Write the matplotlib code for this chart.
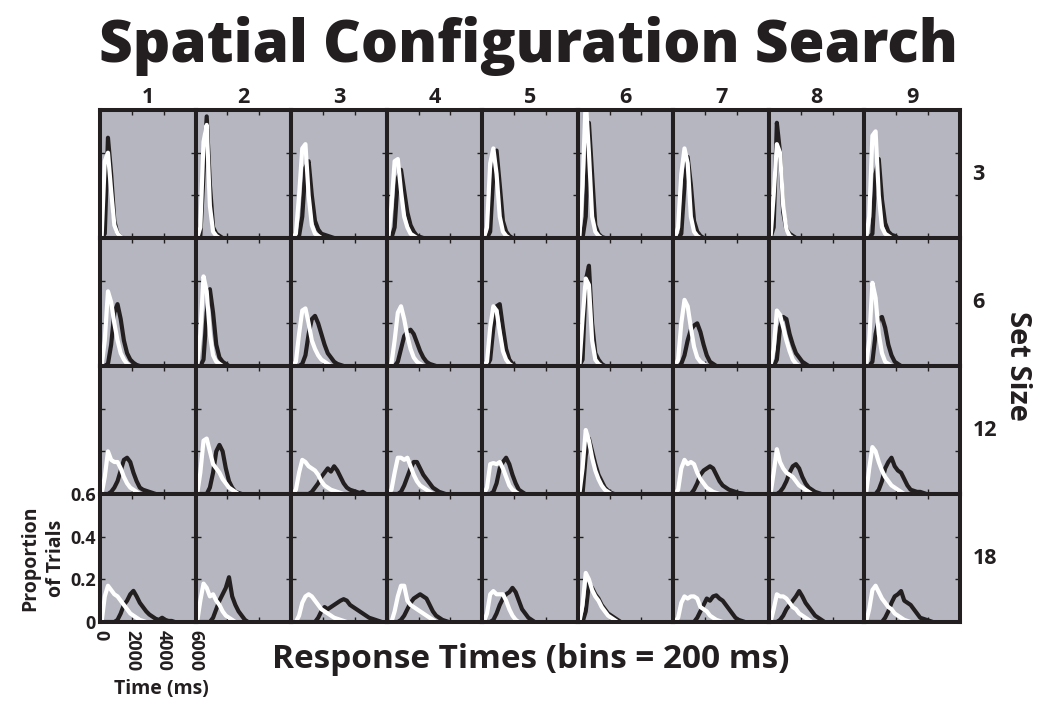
import matplotlib
matplotlib.use("Agg")
import matplotlib.pyplot as plt
import numpy as np

plt.rcParams['font.family'] = ['Open Sans', 'DejaVu Sans']
plt.rcParams['font.weight'] = 'bold'

# bin width of the RT histograms (ms)
bin_ms = 200
columns = ['1', '2', '3', '4', '5', '6', '7', '8', '9']
set_sizes = ['3', '6', '12', '18']

# proportion of trials per 200 ms bin, white = one condition, black = the other
white_ss3 = [
    [0, 0.36, 0.40, 0.22, 0.06, 0.02, 0.005, 0],
    [0, 0.05, 0.45, 0.53, 0.15, 0.03, 0.01, 0],
    [0, 0.02, 0.20, 0.42, 0.44, 0.20, 0.06, 0.02, 0.01, 0],
    [0, 0.15, 0.36, 0.37, 0.22, 0.10, 0.05, 0.02, 0.01, 0],
    [0, 0.05, 0.35, 0.42, 0.30, 0.10, 0.03, 0.01, 0],
    [0, 0.25, 0.65, 0.40, 0.10, 0.03, 0.01, 0],
    [0, 0.05, 0.30, 0.42, 0.35, 0.10, 0.03, 0.01, 0],
    [0, 0.20, 0.44, 0.40, 0.15, 0.04, 0.01, 0],
    [0, 0.10, 0.48, 0.50, 0.20, 0.05, 0.02, 0.01, 0],
]
black_ss3 = [
    [0, 0.02, 0.47, 0.30, 0.08, 0.02, 0.005, 0],
    [0, 0.01, 0.30, 0.57, 0.25, 0.05, 0.02, 0.01, 0],
    [0, 0, 0.01, 0.10, 0.33, 0.36, 0.20, 0.08, 0.04, 0.02, 0.015, 0.01, 0.005, 0],
    [0, 0, 0.05, 0.28, 0.32, 0.22, 0.12, 0.06, 0.03, 0.01, 0.005, 0],
    [0, 0, 0.03, 0.30, 0.41, 0.25, 0.08, 0.03, 0.01, 0],
    [0, 0, 0.10, 0.54, 0.30, 0.06, 0.02, 0.005, 0],
    [0, 0, 0.02, 0.25, 0.38, 0.25, 0.08, 0.03, 0.01, 0],
    [0, 0.05, 0.54, 0.40, 0.12, 0.04, 0.02, 0.01, 0],
    [0, 0, 0.02, 0.30, 0.37, 0.18, 0.07, 0.03, 0.015, 0.01, 0],
]

white_ss6 = [
    [0, 0.12, 0.35, 0.30, 0.20, 0.12, 0.06, 0.03, 0.01, 0],
    [0, 0.15, 0.42, 0.35, 0.15, 0.05, 0.02, 0.01, 0],
    [0, 0.02, 0.15, 0.26, 0.27, 0.20, 0.12, 0.08, 0.05, 0.03, 0.02, 0.01, 0],
    [0, 0.01, 0.12, 0.25, 0.28, 0.22, 0.14, 0.08, 0.04, 0.02, 0.01, 0],
    [0, 0.02, 0.18, 0.28, 0.26, 0.16, 0.07, 0.03, 0.01, 0],
    [0, 0.22, 0.41, 0.38, 0.12, 0.03, 0.01, 0],
    [0, 0.03, 0.20, 0.31, 0.28, 0.18, 0.09, 0.04, 0.02, 0.01, 0],
    [0, 0.08, 0.26, 0.24, 0.18, 0.12, 0.07, 0.03, 0.01, 0],
    [0, 0.12, 0.39, 0.32, 0.15, 0.06, 0.02, 0.01, 0],
]
black_ss6 = [
    [0, 0, 0.01, 0.10, 0.25, 0.29, 0.22, 0.12, 0.06, 0.03, 0.015, 0.005, 0],
    [0, 0, 0.03, 0.25, 0.36, 0.25, 0.10, 0.04, 0.02, 0.01, 0],
    [0, 0, 0, 0.01, 0.05, 0.15, 0.22, 0.235, 0.20, 0.15, 0.10, 0.06, 0.04, 0.02, 0.01, 0.005, 0],
    [0, 0, 0, 0.02, 0.08, 0.14, 0.16, 0.17, 0.15, 0.11, 0.07, 0.04, 0.02, 0.01, 0.005, 0],
    [0, 0, 0.03, 0.18, 0.28, 0.29, 0.18, 0.08, 0.03, 0.01, 0],
    [0, 0.03, 0.40, 0.47, 0.20, 0.06, 0.03, 0.01, 0],
    [0, 0, 0.01, 0.05, 0.12, 0.17, 0.19, 0.20, 0.16, 0.10, 0.05, 0.02, 0.01, 0],
    [0, 0, 0.03, 0.18, 0.23, 0.22, 0.15, 0.10, 0.06, 0.04, 0.02, 0.01, 0],
    [0, 0, 0.02, 0.15, 0.22, 0.23, 0.18, 0.10, 0.05, 0.02, 0.01, 0],
]

white_ss12 = [
    [0, 0.08, 0.20, 0.16, 0.15, 0.15, 0.12, 0.08, 0.05, 0.03, 0.02, 0.01, 0],
    [0, 0.10, 0.25, 0.26, 0.20, 0.14, 0.12, 0.10, 0.07, 0.05, 0.03, 0.02, 0.01, 0],
    [0, 0.02, 0.10, 0.16, 0.15, 0.13, 0.12, 0.11, 0.09, 0.06, 0.04, 0.03, 0.02, 0.015, 0.01, 0.005, 0],
    [0, 0.02, 0.10, 0.17, 0.17, 0.16, 0.17, 0.13, 0.09, 0.06, 0.04, 0.03, 0.02, 0.01, 0],
    [0, 0.03, 0.14, 0.145, 0.14, 0.15, 0.12, 0.08, 0.04, 0.02, 0.01, 0],
    [0, 0.12, 0.30, 0.25, 0.17, 0.11, 0.07, 0.04, 0.02, 0.01, 0],
    [0, 0.02, 0.12, 0.16, 0.14, 0.15, 0.14, 0.10, 0.07, 0.05, 0.03, 0.02, 0.01, 0.005, 0],
    [0, 0.10, 0.21, 0.15, 0.12, 0.10, 0.09, 0.08, 0.06, 0.04, 0.03, 0.02, 0.01, 0],
    [0, 0.12, 0.22, 0.20, 0.15, 0.11, 0.08, 0.06, 0.04, 0.03, 0.02, 0.01, 0],
]
black_ss12 = [
    [0, 0, 0, 0.01, 0.03, 0.06, 0.11, 0.16, 0.17, 0.15, 0.10, 0.06, 0.03, 0.02, 0.015, 0.01, 0.005, 0],
    [0, 0, 0, 0, 0.03, 0.10, 0.20, 0.23, 0.20, 0.12, 0.06, 0.03, 0.01, 0.005, 0],
    [0, 0, 0, 0, 0, 0, 0.01, 0.03, 0.05, 0.08, 0.10, 0.12, 0.105, 0.13, 0.11, 0.08, 0.05, 0.03, 0.02, 0.015, 0.01, 0.005, 0.01, 0],
    [0, 0, 0, 0, 0.01, 0.04, 0.08, 0.12, 0.15, 0.15, 0.12, 0.09, 0.07, 0.05, 0.03, 0.02, 0.01, 0.005, 0],
    [0, 0, 0, 0.01, 0.05, 0.12, 0.15, 0.17, 0.14, 0.09, 0.05, 0.02, 0.01, 0],
    [0, 0, 0.18, 0.26, 0.20, 0.14, 0.09, 0.06, 0.03, 0.015, 0.005, 0],
    [0, 0, 0, 0, 0, 0, 0.02, 0.05, 0.09, 0.11, 0.12, 0.13, 0.12, 0.09, 0.06, 0.04, 0.03, 0.02, 0.015, 0.01, 0.005, 0.003, 0],
    [0, 0, 0, 0.01, 0.03, 0.06, 0.10, 0.13, 0.14, 0.12, 0.08, 0.05, 0.03, 0.02, 0.01, 0.005, 0],
    [0, 0, 0, 0, 0.02, 0.06, 0.12, 0.15, 0.17, 0.13, 0.11, 0.10, 0.07, 0.04, 0.02, 0.015, 0.01, 0.01, 0.005, 0],
]

white_ss18 = [
    [0, 0.12, 0.17, 0.15, 0.13, 0.12, 0.10, 0.08, 0.06, 0.04, 0.03, 0.02, 0.01, 0.005, 0],
    [0, 0.10, 0.18, 0.16, 0.12, 0.13, 0.10, 0.08, 0.05, 0.03, 0.02, 0.01, 0],
    [0, 0, 0.03, 0.09, 0.12, 0.13, 0.12, 0.10, 0.08, 0.06, 0.05, 0.04, 0.03, 0.02, 0.015, 0.01, 0.005, 0],
    [0, 0, 0.05, 0.12, 0.17, 0.17, 0.10, 0.08, 0.07, 0.06, 0.05, 0.04, 0.03, 0.02, 0.01, 0],
    [0, 0.04, 0.13, 0.145, 0.13, 0.13, 0.13, 0.10, 0.06, 0.03, 0.01, 0],
    [0, 0.08, 0.23, 0.20, 0.15, 0.12, 0.10, 0.07, 0.05, 0.03, 0.02, 0.01, 0],
    [0, 0.02, 0.09, 0.12, 0.11, 0.12, 0.12, 0.11, 0.07, 0.06, 0.05, 0.03, 0.02, 0.01, 0.005, 0],
    [0, 0.06, 0.13, 0.12, 0.12, 0.11, 0.09, 0.07, 0.06, 0.04, 0.03, 0.02, 0.01, 0],
    [0, 0.06, 0.15, 0.17, 0.14, 0.11, 0.09, 0.07, 0.06, 0.04, 0.03, 0.02, 0.01, 0.005, 0],
]
black_ss18 = [
    [0, 0, 0, 0, 0, 0.01, 0.04, 0.08, 0.10, 0.13, 0.146, 0.12, 0.09, 0.07, 0.05, 0.035, 0.025, 0.015, 0.01, 0.02, 0.01, 0.005, 0.005, 0],
    [0, 0, 0, 0, 0, 0.02, 0.06, 0.10, 0.13, 0.16, 0.21, 0.12, 0.08, 0.05, 0.03, 0.01, 0],
    [0, 0, 0, 0, 0, 0, 0, 0, 0.02, 0.05, 0.07, 0.06, 0.07, 0.08, 0.09, 0.10, 0.107, 0.10, 0.08, 0.07, 0.06, 0.05, 0.04, 0.03, 0.02, 0.015, 0.01, 0.005, 0],
    [0, 0, 0, 0, 0.01, 0.03, 0.06, 0.09, 0.11, 0.12, 0.13, 0.12, 0.11, 0.08, 0.05, 0.03, 0.02, 0.01, 0.005, 0],
    [0, 0, 0, 0.01, 0.04, 0.08, 0.11, 0.13, 0.14, 0.16, 0.14, 0.10, 0.06, 0.04, 0.02, 0.01, 0],
    [0, 0, 0.05, 0.18, 0.16, 0.13, 0.11, 0.08, 0.06, 0.04, 0.03, 0.02, 0.01, 0],
    [0, 0, 0, 0, 0, 0, 0, 0.02, 0.05, 0.08, 0.11, 0.10, 0.12, 0.125, 0.11, 0.10, 0.08, 0.06, 0.04, 0.02, 0.01, 0.005, 0],
    [0, 0, 0, 0.01, 0.03, 0.06, 0.08, 0.10, 0.12, 0.145, 0.12, 0.09, 0.07, 0.05, 0.03, 0.02, 0.01, 0],
    [0, 0, 0, 0, 0, 0, 0.02, 0.05, 0.09, 0.12, 0.13, 0.145, 0.10, 0.09, 0.08, 0.06, 0.04, 0.02, 0.015, 0.01, 0.005, 0],
]

white_rows = [white_ss3, white_ss6, white_ss12, white_ss18]
black_rows = [black_ss3, black_ss6, black_ss12, black_ss18]

ink = '#231f20'
panel_bg = '#b5b6bf'

fig = plt.figure(figsize=(10.44, 7.10), dpi=100)
gs = fig.add_gridspec(4, 9, left=100/1044, right=960/1044, top=1-110/710,
                      bottom=1-622/710, wspace=0, hspace=0)

for r in range(4):
    for c in range(9):
        ax = fig.add_subplot(gs[r, c])
        ax.set_facecolor(panel_bg)
        b = black_rows[r][c]
        w = white_rows[r][c]
        ax.plot(np.arange(len(b)) * bin_ms + bin_ms / 2, b, color=ink, lw=3.0,
                solid_joinstyle='round')
        ax.plot(np.arange(len(w)) * bin_ms + bin_ms / 2, w, color='white', lw=3.0,
                solid_joinstyle='round')
        ax.set_xlim(0, 6000)
        ax.set_ylim(0, 0.6)
        ax.set_xticks([0, 2000, 4000, 6000])
        ax.set_yticks([0, 0.2, 0.4, 0.6])
        ax.tick_params(direction='in', length=3.5, width=1, color=ink,
                       top=True, right=True, labelleft=False, labelbottom=False)
        for s in ax.spines.values():
            s.set_linewidth(2.9)
            s.set_color(ink)
            s.set_zorder(3)
        if r == 3 and c == 0:
            ax.tick_params(labelleft=True, labelbottom=True, labelsize=13,
                           labelcolor=ink, pad=3)
            ax.set_yticklabels(['0', '0.2', '0.4', '0.6'])
            ax.set_xticklabels(['0', '2000', '4000', '6000'], rotation=270,
                               va='top', ha='center')
            ax.tick_params(axis='x', pad=6)
        if r == 0:
            ax.set_title(columns[c], fontsize=15.5, fontweight='bold', color=ink, pad=5)
        if c == 8:
            ax.text(1.13, 0.5, set_sizes[r], transform=ax.transAxes, fontsize=15.5,
                    fontweight='bold', color=ink, ha='left', va='center')

fig.text(528/1044, 1-62/710, 'Spatial Configuration Search', fontsize=42,
         fontweight='heavy', color=ink, ha='center', va='baseline')
fig.text(1018/1044, 1-366/710, 'Set Size', fontsize=21, fontweight='bold',
         color=ink, rotation=-90, ha='center', va='center')
fig.text(531/1044, 1-668/710, 'Response Times (bins = 200 ms)', fontsize=24,
         fontweight='bold', color=ink, ha='center', va='baseline')
fig.text(43/1044, 1-558/710, 'Proportion\nof Trials', fontsize=14,
         fontweight='bold', color=ink, rotation=90, ha='center', va='center',
         multialignment='center', linespacing=1.35)
fig.text(161/1044, 1-689/710, 'Time (ms)', fontsize=14, fontweight='bold',
         color=ink, ha='center', va='center')

fig.savefig('out.png', dpi=100)
